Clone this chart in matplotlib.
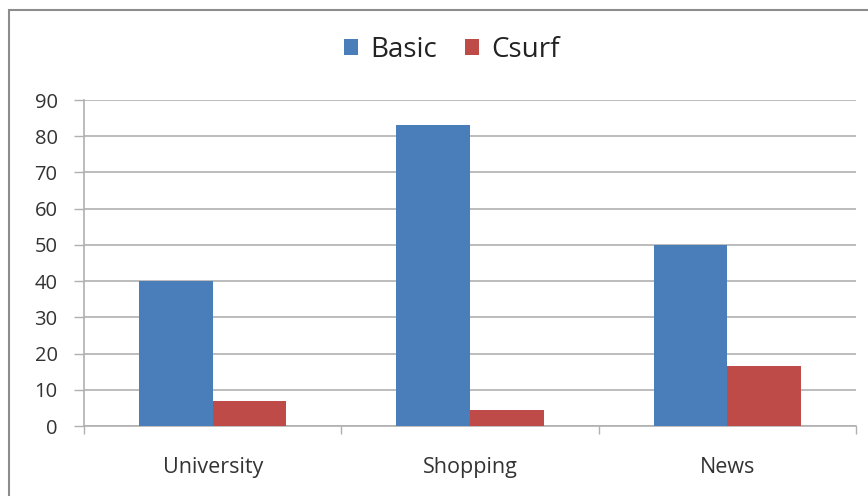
import matplotlib.pyplot as plt
import numpy as np
from matplotlib.patches import Rectangle

categories = ["University", "Shopping", "News"]
basic = [40, 83, 50]
csurf = [7, 4.3, 16.5]
series_names = ["Basic", "Csurf"]
y_ticks = [0, 10, 20, 30, 40, 50, 60, 70, 80, 90]

BLUE = "#4a7ebb"
RED = "#be4b48"
GRID = "#b0b0b0"

plt.rcParams["font.family"] = ["Open Sans", "DejaVu Sans"]

fig = plt.figure(figsize=(8.68, 4.96), dpi=100)
ax = fig.add_axes([84 / 868, 70 / 496, 772 / 868, 326 / 496])

# outer chart frame (only top/left edges fall inside the image)
fig.patches.append(Rectangle((9 / 868, -0.1), 1.2, 1.1 - 10 / 496,
                             transform=fig.transFigure, fill=False,
                             edgecolor="#8c8c8c", linewidth=1.5))

x = np.arange(len(categories))
w = 0.286
ax.bar(x - w / 2, basic, w, color=BLUE, label=series_names[0], zorder=3)
ax.bar(x + w / 2, csurf, w, color=RED, label=series_names[1], zorder=3)

ax.set_xlim(-0.5, len(categories) - 0.5)
ax.set_ylim(0, 90)
ax.set_yticks(y_ticks)
ax.yaxis.grid(True, color=GRID, linewidth=1.2, zorder=0)
ax.set_axisbelow(True)

ax.set_xticks(x)
ax.set_xticklabels(categories)
ax.tick_params(axis="x", length=0, pad=22, labelsize=15.5, colors="#333333")
ax.tick_params(axis="y", length=7, width=1, color=GRID, pad=12,
               labelsize=14.5, labelcolor="#333333")
# category boundary ticks on the x axis
ax.set_xticks(np.arange(len(categories) + 1) - 0.5, minor=True)
ax.tick_params(axis="x", which="minor", length=6, width=1, color=GRID)

for side in ["top", "right"]:
    ax.spines[side].set_visible(False)
ax.spines["left"].set_color(GRID)
ax.spines["bottom"].set_color(GRID)
ax.spines["left"].set_linewidth(1.2)
ax.spines["bottom"].set_linewidth(1.2)

fig.legend(loc="center", bbox_to_anchor=(452 / 868, 1 - 50 / 496), ncol=2,
           frameon=False, fontsize=20, handlelength=0.5, handleheight=0.5,
           handletextpad=0.45, columnspacing=1.0, labelcolor="#222222")

fig.savefig("out.png", dpi=100)
